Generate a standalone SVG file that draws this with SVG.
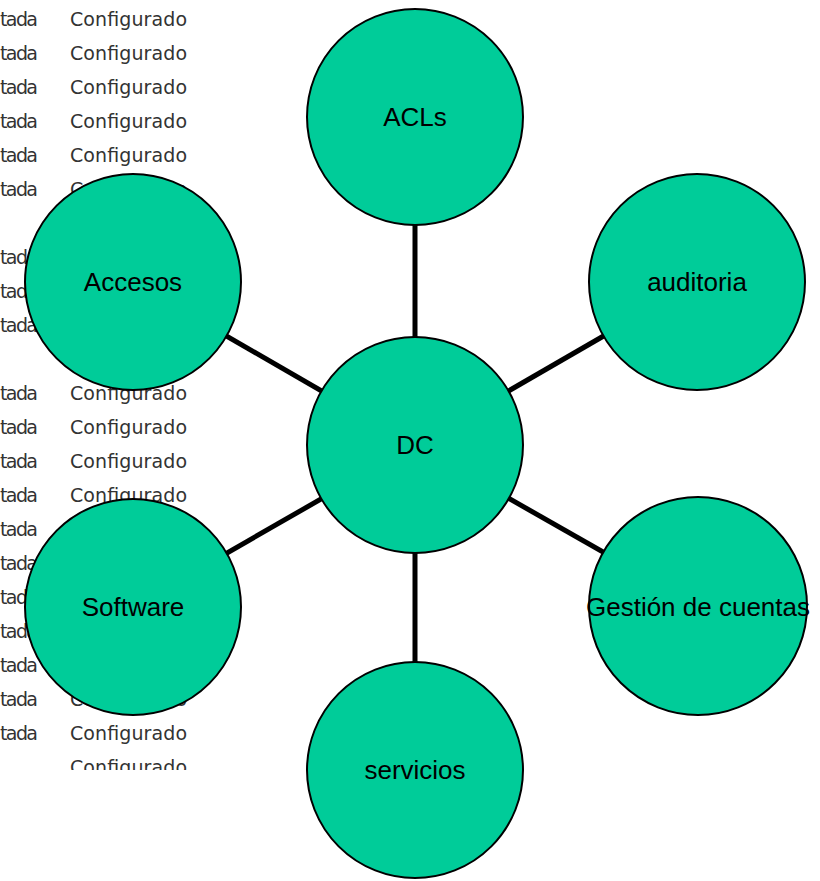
<svg xmlns="http://www.w3.org/2000/svg" width="820" height="881" viewBox="0 0 820 881">
<style>
.bg{font-family:"DejaVu Sans","Liberation Sans",sans-serif;font-size:19px;fill:#333}
.node circle{fill:#00CC99;stroke:#000;stroke-width:2}
.node text{font-family:"Liberation Sans",Arial,sans-serif;font-size:26px;fill:#000;text-anchor:middle}
.edge{stroke:#000;stroke-width:5}
</style>
<defs>
<clipPath id="shot"><rect x="0" y="0" width="205" height="770"/></clipPath>
</defs>
<rect width="820" height="881" fill="#fff"/>
<g id="background" clip-path="url(#shot)" class="bg">
<text x="0" y="26" textLength="38">tada</text><text x="70" y="26" textLength="117">Configurado</text>
<text x="0" y="60" textLength="38">tada</text><text x="70" y="60" textLength="117">Configurado</text>
<text x="0" y="94" textLength="38">tada</text><text x="70" y="94" textLength="117">Configurado</text>
<text x="0" y="128" textLength="38">tada</text><text x="70" y="128" textLength="117">Configurado</text>
<text x="0" y="162" textLength="38">tada</text><text x="70" y="162" textLength="117">Configurado</text>
<text x="0" y="196" textLength="38">tada</text><text x="70" y="196" textLength="117">Configurado</text>
<text x="0" y="264" textLength="38">tada</text>
<text x="0" y="298" textLength="38">tada</text>
<text x="0" y="332" textLength="38">tada</text>
<text x="0" y="400" textLength="38">tada</text><text x="70" y="400" textLength="117">Configurado</text>
<text x="0" y="434" textLength="38">tada</text><text x="70" y="434" textLength="117">Configurado</text>
<text x="0" y="468" textLength="38">tada</text><text x="70" y="468" textLength="117">Configurado</text>
<text x="0" y="502" textLength="38">tada</text><text x="70" y="502" textLength="117">Configurado</text>
<text x="0" y="536" textLength="38">tada</text>
<text x="0" y="570" textLength="38">tada</text>
<text x="0" y="604" textLength="38">tada</text>
<text x="0" y="638" textLength="38">tada</text>
<text x="0" y="672" textLength="38">tada</text>
<text x="0" y="706" textLength="38">tada</text><text x="70" y="706" textLength="117">Configurado</text>
<text x="0" y="740" textLength="38">tada</text><text x="70" y="740" textLength="117">Configurado</text>
<text x="70" y="774" textLength="117">Configurado</text>
</g>
<g id="connectors">
<line class="edge" x1="415" y1="445" x2="415" y2="117"/>
<line class="edge" x1="415" y1="445" x2="697" y2="282"/>
<line class="edge" x1="415" y1="445" x2="133" y2="282"/>
<line class="edge" x1="415" y1="445" x2="133" y2="607"/>
<line class="edge" x1="415" y1="445" x2="698" y2="606"/>
<line class="edge" x1="415" y1="445" x2="415" y2="770"/>
</g>
<g id="acls" class="node"><circle cx="415" cy="117" r="108"/><text x="415" y="126">ACLs</text></g>
<g id="auditoria" class="node"><circle cx="697" cy="282" r="108"/><text x="697" y="291">auditoria</text></g>
<g id="accesos" class="node"><circle cx="133" cy="282" r="108"/><text x="133" y="291">Accesos</text></g>
<g id="dc" class="node"><circle cx="415" cy="445" r="108"/><text x="415" y="454">DC</text></g>
<g id="software" class="node"><circle cx="133" cy="607" r="108"/><text x="133" y="616">Software</text></g>
<g id="gestion" class="node"><circle cx="698" cy="606" r="109"/><text x="698" y="616">Gestión de cuentas</text></g>
<g id="servicios" class="node"><circle cx="415" cy="770" r="108"/><text x="415" y="779">servicios</text></g>
</svg>
